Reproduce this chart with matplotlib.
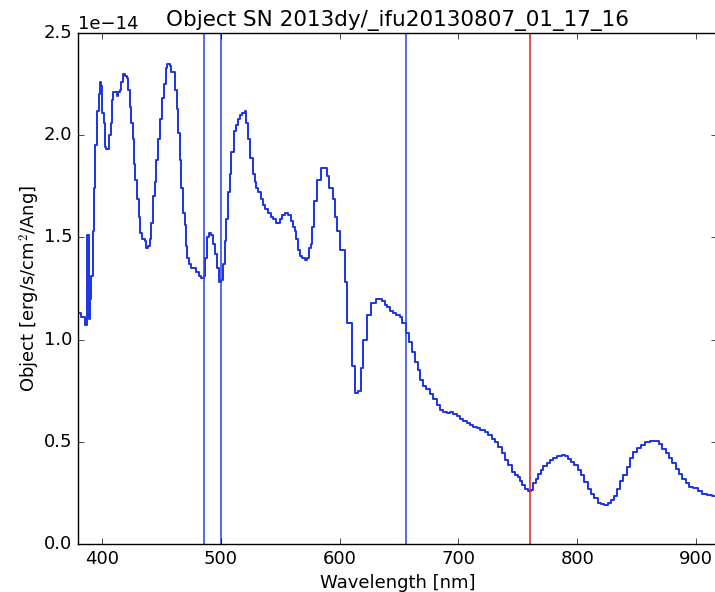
import numpy as np
import matplotlib
matplotlib.use("Agg")
import matplotlib.pyplot as plt

# spectrum (left bin edges in nm, flux in 1e-14 erg/s/cm2/Ang)
wavelength = [380.0, 382.8, 385.6, 387.9, 389.0, 389.8, 391.2, 392.6, 393.5, 394.6,
              396.0, 397.4, 398.2, 399.6, 400.5, 401.9, 403.0, 403.8, 406.1, 407.5,
              408.3, 409.5, 411.4, 412.5, 413.7, 415.1, 416.5, 417.6, 419.3, 421.0,
              422.1, 423.5, 424.9, 426.3, 427.1, 428.3, 429.7, 431.1, 432.5, 434.2,
              436.1, 437.5, 438.9, 440.3, 441.7, 443.1, 444.5, 445.9, 447.3, 448.7,
              450.7, 452.4, 453.8, 455.2, 457.2, 458.6, 460.8, 461.9, 463.1, 464.2,
              465.6, 467.0, 468.4, 469.8, 471.1, 472.0, 473.6, 475.3, 477.6, 479.5,
              481.5, 483.7, 485.7, 487.1, 488.8, 490.2, 492.1, 493.5, 495.5, 496.9,
              498.3, 500.6, 502.0, 503.4, 504.8, 506.2, 507.6, 509.0, 511.0, 512.6,
              514.6, 516.6, 518.2, 520.2, 521.6, 523.0, 525.0, 527.2, 528.6, 530.0,
              531.4, 533.7, 535.6, 537.6, 539.8, 542.1, 544.1, 546.9, 549.7, 551.6,
              553.9, 556.7, 558.9, 560.9, 562.3, 563.7, 565.1, 566.5, 568.5, 570.7,
              573.0, 574.4, 575.8, 576.9, 578.6, 581.4, 584.7, 587.6, 589.5, 591.2,
              594.6, 596.5, 598.2, 600.2, 604.4, 606.4, 610.6, 612.8, 615.6, 617.9,
              619.8, 623.5, 626.8, 631.0, 636.1, 638.1, 640.3, 642.3, 645.1, 647.9,
              650.7, 652.6, 655.7, 658.3, 661.1, 663.3, 665.6, 667.5, 670.3, 673.1,
              675.9, 678.7, 681.6, 684.4, 687.2, 690.0, 692.8, 695.6, 698.4, 701.2,
              704.0, 706.8, 709.6, 712.4, 715.2, 718.1, 722.2, 725.0, 727.9, 730.7,
              733.5, 736.3, 739.1, 741.9, 744.7, 747.5, 749.7, 751.7, 753.7, 755.9,
              758.2, 761.0, 762.9, 764.9, 767.1, 769.4, 771.3, 774.2, 777.0, 779.8,
              782.6, 786.8, 789.6, 791.8, 794.6, 797.4, 800.3, 803.1, 805.9, 808.7,
              811.5, 814.3, 817.1, 819.9, 822.7, 825.5, 828.3, 831.1, 833.8, 835.8,
              838.6, 841.4, 844.2, 847.0, 849.8, 853.5, 856.9, 861.1, 865.3, 868.6,
              871.4, 874.2, 877.1, 879.9, 882.7, 885.5, 888.3, 891.1, 893.9, 897.5,
              901.2, 905.1, 908.8, 913.0, 918.0]
flux = [1.13, 1.11, 1.07, 1.51, 1.10, 1.20, 1.31, 1.53, 1.74, 1.95,
        2.12, 2.20, 2.26, 2.24, 2.11, 2.06, 1.94, 1.93, 2.00, 2.06,
        2.17, 2.21, 2.21, 2.19, 2.21, 2.22, 2.26, 2.30, 2.29, 2.28,
        2.22, 2.14, 2.06, 1.98, 1.86, 1.78, 1.69, 1.60, 1.52, 1.49,
        1.48, 1.45, 1.46, 1.49, 1.57, 1.70, 1.77, 1.88, 1.98, 2.08,
        2.18, 2.25, 2.33, 2.35, 2.34, 2.31, 2.31, 2.22, 2.13, 2.01,
        1.88, 1.74, 1.62, 1.56, 1.46, 1.40, 1.37, 1.35, 1.35, 1.33,
        1.31, 1.30, 1.31, 1.40, 1.50, 1.52, 1.51, 1.47, 1.42, 1.35,
        1.28, 1.29, 1.37, 1.48, 1.59, 1.72, 1.81, 1.92, 2.02, 2.05,
        2.08, 2.10, 2.11, 2.12, 2.06, 1.98, 1.89, 1.81, 1.77, 1.74,
        1.72, 1.69, 1.66, 1.64, 1.62, 1.60, 1.59, 1.57, 1.59, 1.61,
        1.62, 1.61, 1.58, 1.55, 1.53, 1.49, 1.44, 1.41, 1.40, 1.39,
        1.40, 1.45, 1.47, 1.55, 1.68, 1.78, 1.84, 1.84, 1.80, 1.74,
        1.69, 1.60, 1.53, 1.44, 1.28, 1.08, 0.87, 0.74, 0.75, 0.86,
        1.00, 1.12, 1.18, 1.20, 1.19, 1.17, 1.16, 1.14, 1.13, 1.12,
        1.11, 1.08, 1.03, 0.99, 0.94, 0.89, 0.85, 0.80, 0.775, 0.76,
        0.735, 0.71, 0.68, 0.654, 0.645, 0.64, 0.645, 0.637, 0.624, 0.613,
        0.60, 0.59, 0.58, 0.57, 0.565, 0.556, 0.548, 0.532, 0.515, 0.50,
        0.475, 0.443, 0.41, 0.385, 0.353, 0.337, 0.33, 0.31, 0.29, 0.27,
        0.26, 0.265, 0.296, 0.316, 0.34, 0.364, 0.38, 0.397, 0.41, 0.423,
        0.429, 0.434, 0.43, 0.418, 0.40, 0.385, 0.364, 0.337, 0.304, 0.27,
        0.244, 0.223, 0.199, 0.195, 0.19, 0.199, 0.215, 0.234, 0.27, 0.31,
        0.337, 0.377, 0.42, 0.45, 0.47, 0.486, 0.499, 0.504, 0.503, 0.49,
        0.467, 0.447, 0.42, 0.394, 0.369, 0.34, 0.317, 0.296, 0.28, 0.272,
        0.259, 0.247, 0.242, 0.236, 0.236]

# marker lines (nm)
blue_lines = [486.1, 500.7, 656.3]
red_lines = [760.5]

title = "Object SN 2013dy/_ifu20130807_01_17_16"

plt.style.use("classic")
plt.rcParams["font.size"] = 13
fig = plt.figure(figsize=(7.15, 5.92), dpi=100)
ax = fig.add_axes([0.1091, 0.0811, 0.8937, 0.8632])

ax.step(wavelength, np.array(flux) * 1e-14, where="post", color="#1a33e6", lw=1.4)
for w in blue_lines:
    ax.axvline(w, color="#2244ee", lw=1.1)
for w in red_lines:
    ax.axvline(w, color="#dd2222", lw=1.1)

ax.set_xlim(380, 917.5)
ax.set_ylim(0, 2.5e-14)
ax.set_xlabel("Wavelength [nm]")
ax.set_ylabel("Object [erg/s/cm$^2$/Ang]", labelpad=1)
ax.set_title(title, fontsize=15.5)

fig.savefig("out.png", dpi=100)
